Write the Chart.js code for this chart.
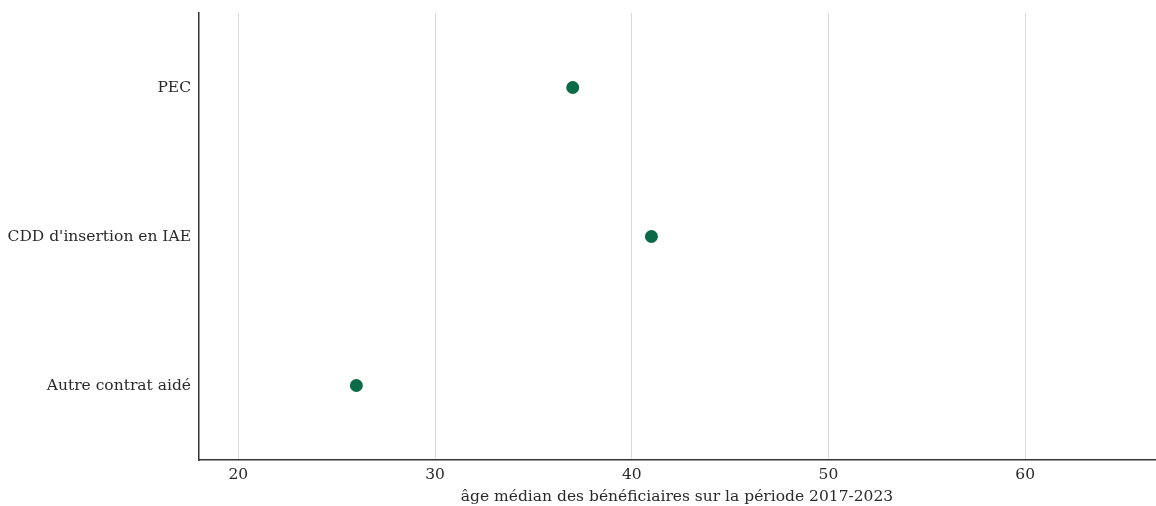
<!DOCTYPE html>
<html>
<head>
<meta charset="utf-8">
<script src="https://cdn.jsdelivr.net/npm/chart.js@4"></script>
<style>
  html, body { margin: 0; padding: 0; background: #fff; }
  #wrap { width: 1156px; height: 506px; }
</style>
</head>
<body>
<div id="wrap"><canvas id="chart"></canvas></div>
<script>
// === Data ===
const categories = ["PEC", "CDD d'insertion en IAE", "Autre contrat aidé"];
const medianAge = [37, 41, 26];
const xTicks = [20, 30, 40, 50, 60];
const xTitle = "âge médian des bénéficiaires sur la période 2017-2023";

const font = "'DejaVu Serif', serif";
const green = "#0b6b48";

new Chart(document.getElementById("chart"), {
  type: "line",
  data: {
    labels: categories,
    datasets: [{
      data: medianAge.map((v, i) => ({ x: v, y: categories[i] })),
      showLine: false,
      pointRadius: 6.5,
      pointHoverRadius: 6.5,
      pointBackgroundColor: green,
      pointBorderColor: green,
      pointBorderWidth: 0
    }]
  },
  options: {
    responsive: true,
    maintainAspectRatio: false,
    animation: false,
    layout: { autoPadding: false, padding: { top: 13, right: 1, left: 0, bottom: 0 } },
    plugins: {
      legend: { display: false },
      tooltip: { enabled: false }
    },
    scales: {
      x: {
        type: "linear",
        min: 18,
        max: 66.6,
        afterBuildTicks(scale) {
          scale.ticks = xTicks.map(v => ({ value: v }));
        },
        afterFit(scale) {
          scale.height = 46;
          scale.paddingLeft = 0;
          scale.paddingRight = 0;
        },
        grid: { color: "#d9d9d9", drawTicks: false, lineWidth: 1 },
        border: { color: "#333", width: 1.5 },
        ticks: { color: "#2a2a2a", padding: 6, font: { family: font, size: 15.5 } },
        title: {
          display: true,
          text: xTitle,
          color: "#2a2a2a",
          padding: { top: 0, bottom: 0 },
          font: { family: font, size: 15.5 }
        }
      },
      y: {
        type: "category",
        offset: true,
        afterFit(scale) {
          scale.width = 199;
          scale.paddingTop = 0;
          scale.paddingBottom = 0;
        },
        grid: { display: false, drawTicks: false },
        border: { color: "#333", width: 1.5 },
        ticks: { color: "#2a2a2a", padding: 8, font: { family: font, size: 15.5 } }
      }
    }
  }
});
</script>
</body>
</html>
